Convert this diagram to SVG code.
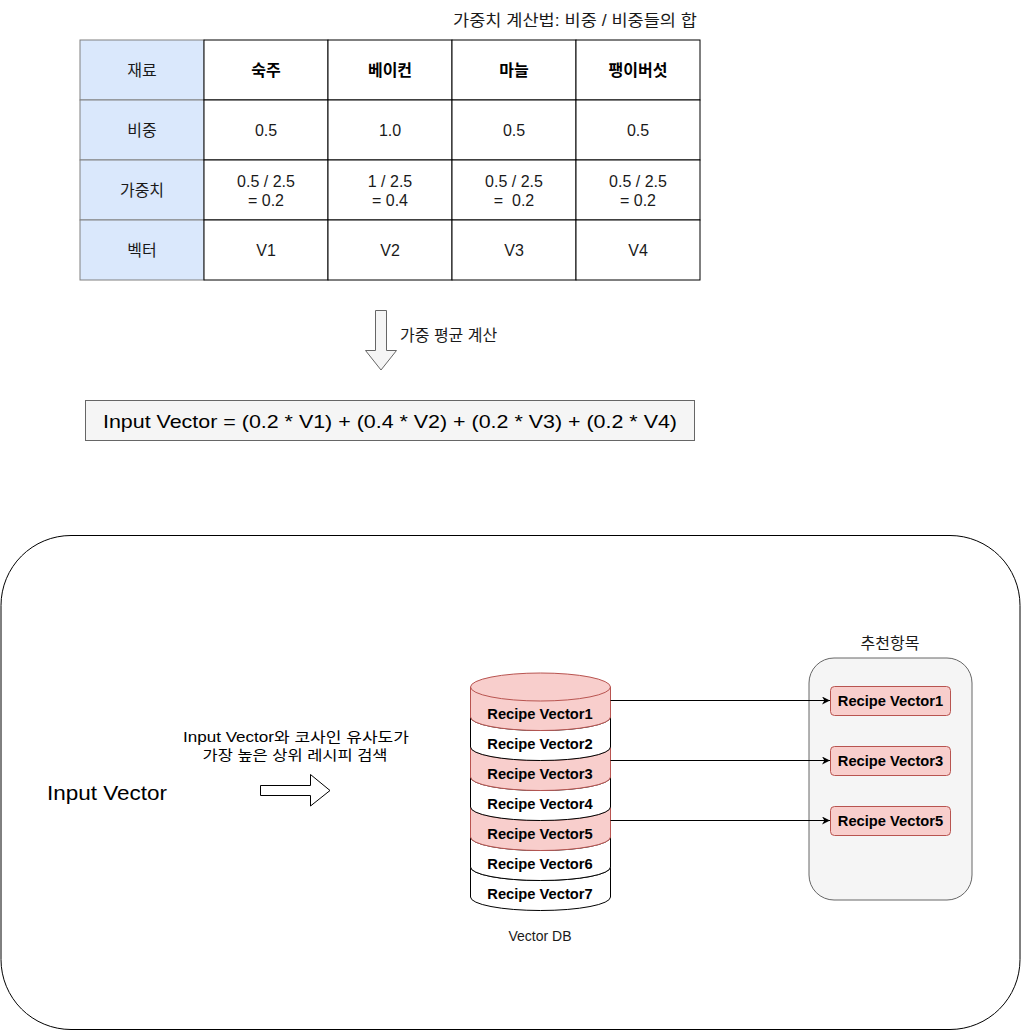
<svg xmlns="http://www.w3.org/2000/svg" width="1021" height="1031" viewBox="0 0 1021 1031">
<defs>
<style>
.t{font-family:"Liberation Sans","Noto Sans CJK KR",sans-serif;font-size:16px;fill:#1a1a1a;text-anchor:middle;dominant-baseline:central}
.b{font-weight:bold;fill:#000}
.c{font-family:"Comic Sans MS","Liberation Sans","Noto Sans CJK KR",sans-serif;fill:#000;text-anchor:middle;dominant-baseline:central}
.hd{fill:#dae8fc;stroke:#808080;stroke-width:1}
.cell{fill:#fff;stroke:#000;stroke-width:1}
.pk{fill:#f8cecc;stroke:#b85450;stroke-width:1}
.wh{fill:#fff;stroke:#000;stroke-width:1}
.rv{font-family:"Liberation Sans","Noto Sans CJK KR",sans-serif;font-size:14.7px;font-weight:bold;fill:#000;text-anchor:middle;dominant-baseline:central}
.ln{fill:none;stroke:#000;stroke-width:1}
.pre{white-space:pre}
</style>
<marker id="ah" viewBox="0 0 10 10" refX="10" refY="5" markerWidth="8" markerHeight="8" markerUnits="userSpaceOnUse" orient="auto">
<path d="M0,0 L10,5 L0,10 L3,5 Z" fill="#000"/>
</marker>
</defs>
<rect width="1021" height="1031" fill="#fff"/>

<g id="title"><text class="t" x="697" y="20" style="text-anchor:end" textLength="244" lengthAdjust="spacingAndGlyphs" fill="#333">가중치 계산법: 비중 / 비중들의 합</text></g>

<g id="table">
<rect class="hd" x="80" y="40" width="124" height="60"/>
<rect class="hd" x="80" y="100" width="124" height="60"/>
<rect class="hd" x="80" y="160" width="124" height="60"/>
<rect class="hd" x="80" y="220" width="124" height="60"/>
<rect class="cell" x="204" y="40" width="124" height="60"/>
<rect class="cell" x="328" y="40" width="124" height="60"/>
<rect class="cell" x="452" y="40" width="124" height="60"/>
<rect class="cell" x="576" y="40" width="124" height="60"/>
<rect class="cell" x="204" y="100" width="124" height="60"/>
<rect class="cell" x="328" y="100" width="124" height="60"/>
<rect class="cell" x="452" y="100" width="124" height="60"/>
<rect class="cell" x="576" y="100" width="124" height="60"/>
<rect class="cell" x="204" y="160" width="124" height="60"/>
<rect class="cell" x="328" y="160" width="124" height="60"/>
<rect class="cell" x="452" y="160" width="124" height="60"/>
<rect class="cell" x="576" y="160" width="124" height="60"/>
<rect class="cell" x="204" y="220" width="124" height="60"/>
<rect class="cell" x="328" y="220" width="124" height="60"/>
<rect class="cell" x="452" y="220" width="124" height="60"/>
<rect class="cell" x="576" y="220" width="124" height="60"/>
<text class="t" x="142" y="70">재료</text>
<text class="t" x="142" y="130">비중</text>
<text class="t" x="142" y="190">가중치</text>
<text class="t" x="142" y="250">벡터</text>
<text class="t b" x="266" y="70">숙주</text>
<text class="t b" x="390" y="70">베이컨</text>
<text class="t b" x="514" y="70">마늘</text>
<text class="t b" x="638" y="70">팽이버섯</text>
<text class="t" x="266" y="130">0.5</text>
<text class="t" x="390" y="130">1.0</text>
<text class="t" x="514" y="130">0.5</text>
<text class="t" x="638" y="130">0.5</text>
<text class="t" x="266" y="181">0.5 / 2.5</text>
<text class="t" x="266" y="200">= 0.2</text>
<text class="t" x="390" y="181">1 / 2.5</text>
<text class="t" x="390" y="200">= 0.4</text>
<text class="t" x="514" y="181">0.5 / 2.5</text>
<text class="t pre" x="514" y="200">=  0.2</text>
<text class="t" x="638" y="181">0.5 / 2.5</text>
<text class="t" x="638" y="200">= 0.2</text>
<text class="t" x="266" y="250">V1</text>
<text class="t" x="390" y="250">V2</text>
<text class="t" x="514" y="250">V3</text>
<text class="t" x="638" y="250">V4</text>
</g>

<g id="down-arrow">
<path d="M375.5,310.5 L386.5,310.5 L386.5,350.5 L396.5,350.5 L381,370 L365.5,350.5 L375.5,350.5 Z" fill="#f5f5f5" stroke="#666" stroke-width="1"/>
<text class="t" x="400" y="335" style="text-anchor:start">가중 평균 계산</text>
</g>

<g id="equation">
<rect x="85.5" y="400.5" width="609" height="40" fill="#f5f5f5" stroke="#666" stroke-width="1"/>
<text class="c" x="390" y="421" font-size="19" textLength="574" lengthAdjust="spacingAndGlyphs" fill="#333">Input Vector = (0.2 * V1) + (0.4 * V2) + (0.2 * V3) + (0.2 * V4)</text>
</g>

<g id="container">
<rect x="1" y="535.5" width="1019" height="494" rx="70" ry="70" fill="#fff" stroke="#000" stroke-width="1"/>
</g>

<g id="input-vector">
<text class="c" x="107" y="792" font-size="21" textLength="120" lengthAdjust="spacingAndGlyphs">Input Vector</text>
</g>

<g id="search-label">
<text class="c" x="296" y="737" font-size="14" textLength="226" lengthAdjust="spacingAndGlyphs">Input Vector와  코사인 유사도가</text>
<text class="c" x="295" y="755" font-size="14" textLength="185" lengthAdjust="spacingAndGlyphs">가장 높은 상위 레시피 검색</text>
</g>

<g id="right-arrow">
<path d="M260.5,785.5 L310.5,785.5 L310.5,774.5 L330,790.5 L310.5,806 L310.5,795.5 L260.5,795.5 Z" fill="#fff" stroke="#000" stroke-width="1"/>
</g>

<g id="vector-db">
<g id="rv7"><path class="wh" d="M470.5,867 A70,13.5 0 0 0 610.5,867 L610.5,897 A70,13.5 0 0 1 470.5,897 Z"/><text class="rv" x="540" y="894">Recipe Vector7</text></g>
<g id="rv6"><path class="wh" d="M470.5,837 A70,13.5 0 0 0 610.5,837 L610.5,867 A70,13.5 0 0 1 470.5,867 Z"/><text class="rv" x="540" y="864">Recipe Vector6</text></g>
<g id="rv5"><path class="pk" d="M470.5,807 A70,13.5 0 0 0 610.5,807 L610.5,837 A70,13.5 0 0 1 470.5,837 Z"/><text class="rv" x="540" y="834">Recipe Vector5</text></g>
<g id="rv4"><path class="wh" d="M470.5,777 A70,13.5 0 0 0 610.5,777 L610.5,807 A70,13.5 0 0 1 470.5,807 Z"/><text class="rv" x="540" y="804">Recipe Vector4</text></g>
<g id="rv3"><path class="pk" d="M470.5,747 A70,13.5 0 0 0 610.5,747 L610.5,777 A70,13.5 0 0 1 470.5,777 Z"/><text class="rv" x="540" y="774">Recipe Vector3</text></g>
<g id="rv2"><path class="wh" d="M470.5,717 A70,13.5 0 0 0 610.5,717 L610.5,747 A70,13.5 0 0 1 470.5,747 Z"/><text class="rv" x="540" y="744">Recipe Vector2</text></g>
<g id="rv1"><path class="pk" d="M470.5,687 A70,14 0 0 1 610.5,687 L610.5,717 A70,13.5 0 0 1 470.5,717 Z"/><path d="M470.5,687 A70,14 0 0 0 610.5,687" fill="none" stroke="#b85450" stroke-width="1"/><text class="rv" x="540" y="714">Recipe Vector1</text></g>
<text class="t" x="540" y="936" fill="#333" style="font-size:14px">Vector DB</text>
</g>

<g id="recommend">
<text class="t" x="890" y="643">추천항목</text>
<rect x="809" y="658" width="163" height="242" rx="25" ry="25" fill="#f5f5f5" stroke="#666" stroke-width="1"/>
<g id="r1"><rect class="pk" x="830.5" y="686.5" width="120" height="29" rx="4"/><text class="rv" x="890.5" y="701">Recipe Vector1</text></g>
<g id="r3"><rect class="pk" x="830.5" y="746.5" width="120" height="29" rx="4"/><text class="rv" x="890.5" y="761">Recipe Vector3</text></g>
<g id="r5"><rect class="pk" x="830.5" y="806.5" width="120" height="29" rx="4"/><text class="rv" x="890.5" y="821">Recipe Vector5</text></g>
</g>

<g id="connectors">
<line class="ln" x1="610.5" y1="700.5" x2="830" y2="700.5" marker-end="url(#ah)"/>
<line class="ln" x1="610.5" y1="760.5" x2="830" y2="760.5" marker-end="url(#ah)"/>
<line class="ln" x1="610.5" y1="820.5" x2="830" y2="820.5" marker-end="url(#ah)"/>
</g>
</svg>
